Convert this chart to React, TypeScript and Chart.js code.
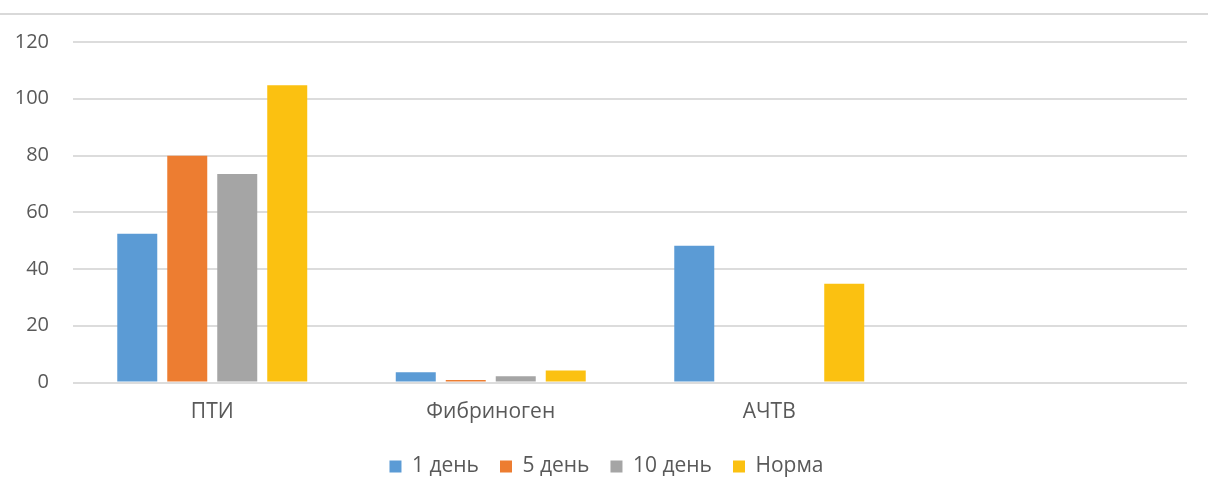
import React, { useEffect, useRef } from "react";
import { Chart, registerables } from "chart.js";

Chart.register(...registerables);

const categories = ["ПТИ", "Фибриноген", "АЧТВ", ""];
const seriesNames = ["1 день", "5 день", "10 день", "Норма"];
const day1 = [52.4, 3.6, 48.2, null];
const day5 = [79.9, 0.9, null, null];
const day10 = [73.5, 2.2, null, null];
const norm = [104.8, 4.2, 34.8, null];
const colors = ["#5B9BD5", "#ED7D31", "#A5A5A5", "#FBC111"];
const yTicks = [0, 20, 40, 60, 80, 100, 120];

const FONT = "'Open Sans', 'Noto Sans', sans-serif";
const TEXT = "#595959";

export default function App() {
  const ref = useRef<HTMLCanvasElement>(null);

  useEffect(() => {
    if (!ref.current) return;
    const series = [day1, day5, day10, norm];
    const shiftLegend = {
      id: "shiftLegend",
      afterLayout(c: any) {
        if (c.legend) {
          c.legend.left += 13;
          c.legend.right += 13;
        }
      },
    };
    const chart = new Chart(ref.current, {
      type: "bar",
      data: {
        labels: categories,
        datasets: series.map((d, i) => ({
          label: seriesNames[i],
          data: d,
          backgroundColor: colors[i],
          borderWidth: 0,
          categoryPercentage: 0.718,
          barPercentage: 0.8,
        })),
      },
      plugins: [shiftLegend],
      options: {
        responsive: false,
        animation: false,
        layout: { padding: { top: 42, right: 21, left: 0, bottom: 0 } },
        plugins: {
          tooltip: { enabled: false },
          legend: {
            position: "bottom",
            labels: {
              boxWidth: 12,
              boxHeight: 12,
              padding: 21,
              color: TEXT,
              font: { family: FONT, size: 21 },
            },
          },
        },
        scales: {
          x: {
            grid: { display: false, drawTicks: false },
            border: { display: false },
            ticks: { color: TEXT, font: { family: FONT, size: 21 }, padding: 17 },
            afterFit: (s: any) => { s.height = 52.5; },
          },
          y: {
            min: 0,
            max: 120,
            afterBuildTicks: (s: any) => { s.ticks = yTicks.map((v) => ({ value: v })); },
            grid: { color: "#dcdcdc", lineWidth: 2, drawTicks: false },
            border: { display: false },
            ticks: { color: TEXT, font: { family: FONT, size: 20 }, padding: 24 },
            afterFit: (s: any) => { s.width = 73; },
          },
        },
      },
    });
    return () => chart.destroy();
  }, []);

  return (
    <div
      style={{
        position: "fixed",
        left: 0,
        top: 0,
        width: 1208,
        height: 477,
        overflow: "hidden",
        background: "#fff",
      }}
    >
      <div
        style={{
          position: "absolute",
          left: 0,
          top: 13,
          width: 1208,
          height: 2,
          background: "#d9d9d9",
        }}
      />
      <canvas ref={ref} width={1208} height={487} style={{ display: "block" }} />
    </div>
  );
}
